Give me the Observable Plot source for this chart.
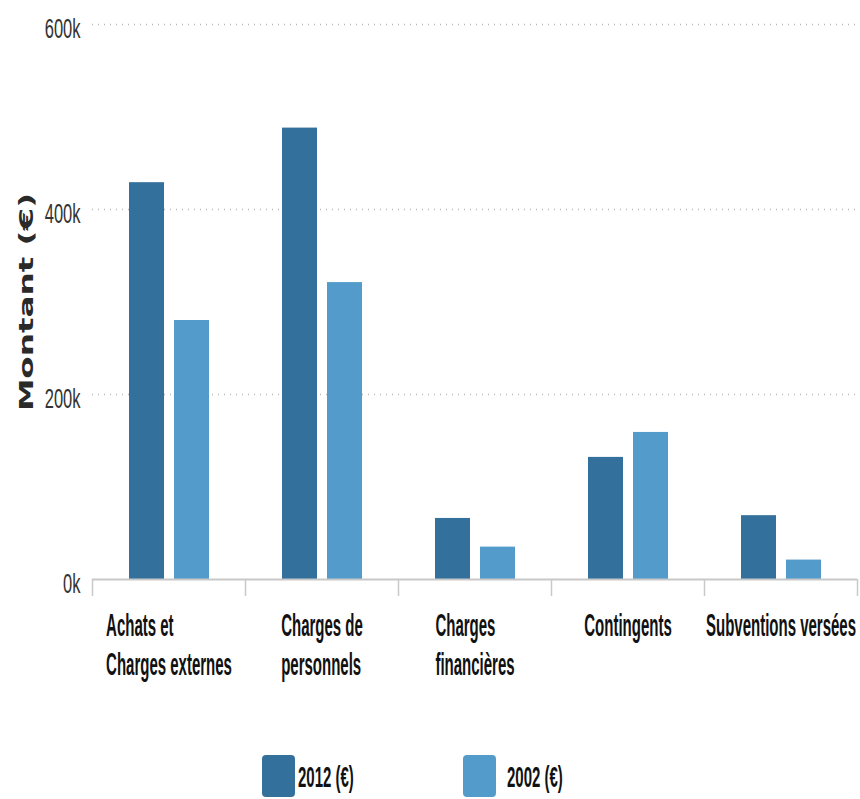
<!DOCTYPE html>
<html>
<head>
<meta charset="utf-8">
<script src="https://cdn.jsdelivr.net/npm/d3@7"></script>
<script src="https://cdn.jsdelivr.net/npm/@observablehq/plot@0.6"></script>
<style>
  body { margin: 0; background: #fff; }
  #chart svg { display: block; background: #fff; }
  g[aria-label="x-axis tick label"] text {
    font-family: "Liberation Sans Narrow", "Liberation Sans", sans-serif;
    font-weight: bold; font-size: 15px; fill: #111;
  }
  g[aria-label="y-axis tick label"] text {
    font-family: "Liberation Sans Narrow", "Liberation Sans", sans-serif;
    font-size: 16.5px; fill: #333;
  }
  g[aria-label="y-axis label"] text {
    font-family: "DejaVu Sans", sans-serif;
    font-weight: bold; font-size: 20px; fill: #2a2a2a;
  }
  #legend { position: relative; width: 860px; height: 99px; }
  #legend .sw { position: absolute; width: 33px; height: 42px; border-radius: 4px; }
  #legend .lt {
    position: absolute; display: inline-block; white-space: nowrap;
    font-family: "Liberation Sans Narrow", "Liberation Sans", sans-serif;
    font-weight: bold; font-size: 15px; line-height: 18px; color: #111;
    transform: scaleY(2); transform-origin: 50% 50%;
  }
</style>
</head>
<body>
<div id="chart"></div>
<div id="legend"></div>
<script>
// ---- data ----
const categories = ["Achats et Charges externes", "Charges de personnels", "Charges financières", "Contingents", "Subventions versées"];
const tickLabels = ["Achats et\nCharges externes", "Charges de\npersonnels", "Charges\nfinancières", "Contingents", "Subventions versées"];
const series = ["2012 (€)", "2002 (€)"];
const values2012 = [429000, 488000, 66000, 132000, 69000];
const values2002 = [280000, 321000, 35000, 159000, 21000];
const yTicks = [0, 200000, 400000, 600000];
const colors = ["#33709c", "#539bcb"];

const rows2012 = categories.map((c, i) => ({category: c, series: series[0], value: values2012[i]}));
const rows2002 = categories.map((c, i) => ({category: c, series: series[1], value: values2002[i]}));

const W = 860, H = 700, ML = 92, MR = 3, MT = 24, MB = 121;
const step = (W - ML - MR) / categories.length;

const chart = Plot.plot({
  width: W, height: H,
  marginLeft: ML, marginRight: MR, marginTop: MT, marginBottom: MB,
  x: {type: "band", domain: categories, padding: 0, label: null},
  y: {domain: [0, 600000], label: null},
  color: {domain: series, range: colors},
  marks: [
    Plot.gridY(yTicks.slice(1), {stroke: "#b8b8b8", strokeOpacity: 1, strokeWidth: 1.5, strokeDasharray: "1,5"}),
    Plot.barY(rows2012, {x: "category", y: "value", fill: "series", insetLeft: 37, insetRight: 81}),
    Plot.barY(rows2002, {x: "category", y: "value", fill: "series", insetLeft: 82, insetRight: 36}),
    Plot.ruleY([0], {stroke: "#c8c8c8", strokeWidth: 2}),
    Plot.axisX({anchor: "bottom", tickSize: 17, tickFormat: () => "", stroke: "#c8c8c8", strokeWidth: 1.5, dx: step / 2, label: null}),
    Plot.axisX([categories[0]], {anchor: "bottom", tickSize: 17, tickFormat: () => "", stroke: "#c8c8c8", strokeWidth: 1.5, dx: -step / 2, label: null}),
    Plot.axisX({anchor: "bottom", tickSize: 0, tickPadding: 29, tickFormat: (d) => tickLabels[categories.indexOf(d)], lineHeight: 1.24, label: null}),
    Plot.axisY(yTicks, {anchor: "left", tickSize: 0, tickPadding: 12, dy: 5, tickFormat: (d) => d / 1000 + "k",
      label: "Montant (€)", labelAnchor: "center", labelOffset: 74, labelArrow: "none"})
  ]
});

document.getElementById("chart").appendChild(chart);

// condensed-tall text look of the original
const svgSel = d3.select(chart);
function appendTransform(sel, extra) {
  sel.attr("transform", function () { return (this.getAttribute("transform") || "") + " " + extra; });
}
appendTransform(svgSel.selectAll('g[aria-label="x-axis tick label"] text'), "scale(1,2.1)");
appendTransform(svgSel.selectAll('g[aria-label="y-axis tick label"] text'), "scale(1,1.7)");
appendTransform(svgSel.selectAll('g[aria-label="y-axis label"] text'), "scale(1.63,1)");

// multi-line category labels: lines left-aligned inside a centred block
svgSel.selectAll('g[aria-label="x-axis tick label"] text').each(function () {
  const spans = this.querySelectorAll("tspan");
  if (spans.length < 2) return;
  let w = 0;
  spans.forEach((s) => { w = Math.max(w, s.getComputedTextLength()); });
  this.setAttribute("text-anchor", "start");
  spans.forEach((s) => s.setAttribute("x", -w / 2));
});

// legend
const legend = d3.select("#legend");
const swLeft = [262, 463], txtLeft = [298, 507];
series.forEach((s, i) => {
  legend.append("div").attr("class", "sw").style("left", swLeft[i] + "px").style("top", "55px").style("background", colors[i]);
  legend.append("div").attr("class", "lt").style("left", txtLeft[i] + "px").style("top", "68px").text(s);
});
</script>
</body>
</html>
